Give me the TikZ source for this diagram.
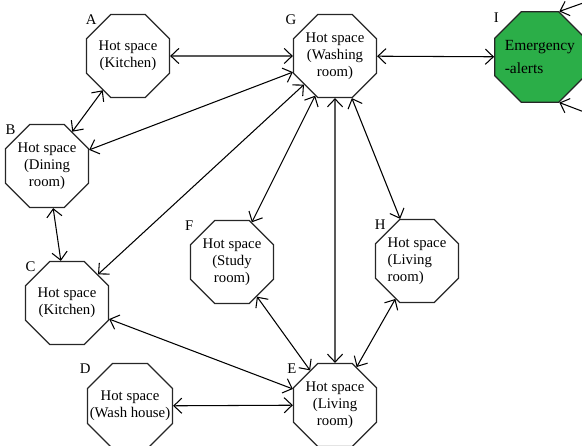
\documentclass[tikz,border=0pt]{standalone}
\usepackage{fontspec}
\setmainfont{Liberation Serif}
\usepackage{tikz}
\usetikzlibrary{shapes.geometric,arrows.meta}
\definecolor{alertgreen}{RGB}{43,174,72}

\begin{document}
\begin{tikzpicture}[
x=0.025cm, y=-0.025cm,
font=\fontsize{10.5}{12}\selectfont,
hotspace/.style={regular polygon, regular polygon sides=8, draw=black!85, line width=0.9pt, minimum size=2.245cm, inner sep=0pt, align=center},
alert/.style={hotspace, fill=alertgreen, align=left, font=\fontsize{11}{17}\selectfont},
spotname/.style={label={[inner sep=1pt]135:#1}},
spotfar/.style={label={[inner sep=1pt, xshift=-0.18cm]135:#1}},
link/.style={<->, line width=0.75pt, >={Straight Barb[length=2mm,width=3.8mm]}}
]
    \useasboundingbox (0,0) rectangle (582,445);

    % Draw hot spaces
    \node[hotspace, spotname=A] (A) at (128,56) {Hot space\\(Kitchen)};
    \node[hotspace, spotname=B] (B) at (47,166) {Hot space\\(Dining\\room)};
    \node[hotspace, spotname=C] (C) at (67,303) {Hot space\\(Kitchen)};
    \node[hotspace, spotfar=D] (D) at (130,406) {Hot space\\\makebox[1.5cm]{(Wash house)}};
    \node[hotspace, spotfar=E] (E) at (335,405) {Hot space\\(Living\\room)};
    \node[hotspace, spotfar=F] (F) at (232,262) {Hot space\\(Study\\room)};
    \node[hotspace, spotfar=G] (G) at (335,56) {Hot space\\(Washing\\room)};
    \node[hotspace, spotname=H, align=left] (H) at (417,261) {Hot space\\(Living\\room)};
    \node[alert, spotfar=I] (I) at (540,57)
        {\makebox[1.6cm][l]{\hspace*{-0.08cm}Emergency}\\\hspace*{-0.08cm}-alerts};

    % Links between hot spaces
    \draw[link] (A) -- (G);
    \draw[link] (A) -- (B);
    \draw[link] (B) -- (G);
    \draw[link] (B) -- (C);
    \draw[link] (C) -- (G);
    \draw[link] (C) -- (E);
    \draw[link] (D) -- (E);
    \draw[link] (F) -- (G);
    \draw[link] (F) -- (E);
    \draw[link] (G) -- (E);
    \draw[link] (H) -- (G);
    \draw[link] (H) -- (E);
    \draw[link] (G) -- (I);

    % Alerts coming in from outside
    \coordinate (out1) at (600,-3);
    \coordinate (out2) at (600,118);
    \draw[link, ->] (out1) -- (I.67.5);
    \draw[link, ->] (out2) -- (I.-67.5);

\end{tikzpicture}
\end{document}
